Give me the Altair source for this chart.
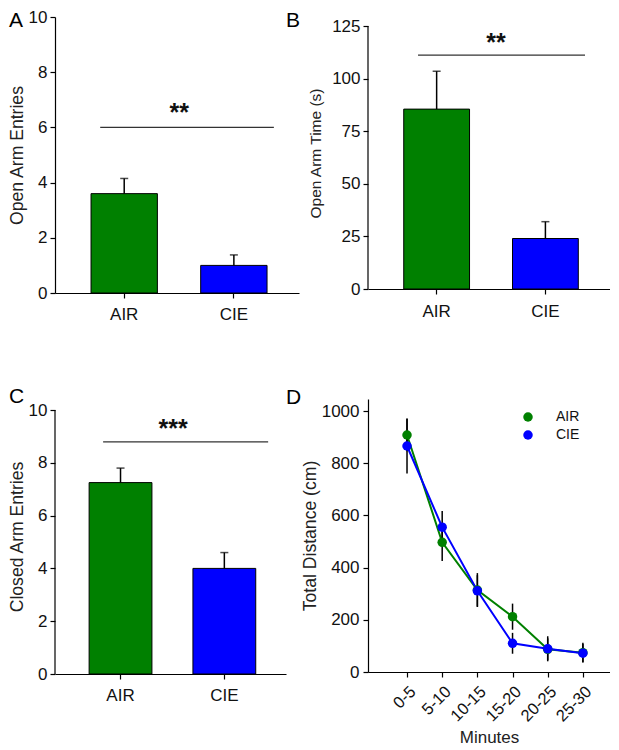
import altair as alt
import pandas as pd

# ---------------- data ----------------
groups = ["AIR", "CIE"]
group_colors = ["#008000", "#0000FF"]

panel_letters = ["A", "B", "C", "D"]

open_entries = [3.6, 1.0]
open_entries_sem = [0.55, 0.38]

open_time = [85.5, 24.0]
open_time_sem = [18.0, 8.0]

closed_entries = [7.25, 4.0]
closed_entries_sem = [0.55, 0.6]

sig_labels = ["**", "**", "***"]
sig_levels = [6.0, 111.2, 8.79]

minutes = ["0-5", "5-10", "10-15", "15-20", "20-25", "25-30"]
air_distance = [908, 497, 314, 212, 87, 74]
air_distance_sem = [62, 72, 65, 50, 42, 38]
cie_distance = [866, 555, 311, 110, 89, 72]
cie_distance_sem = [105, 62, 60, 40, 48, 35]

# ---------------- style ----------------
FONT = "Liberation Sans"
INK = "#111111"
color_scale = alt.Scale(domain=groups, range=group_colors)


def letter_layer(text, px, py):
    df = pd.DataFrame({"letter": [text]})
    return alt.Chart(df).mark_text(font=FONT, fontSize=21, color="black",
                                   align="left", baseline="alphabetic").encode(
        text="letter:N", x=alt.value(px), y=alt.value(py))


def bar_panel(values, sems, ytitle, ymax, ticks, axis_top, sig_label, sig_level,
              width, height, line_off, line_off2, star_dx, star_dy, letter,
              title_pad, label_pad_x, title_size, custom_axis):
    df = pd.DataFrame({"group": groups, "value": values, "sem": sems})
    sig_df = pd.DataFrame({"label": [sig_label], "level": [sig_level],
                           "left": ["AIR"], "right": ["CIE"]})
    xscale = alt.Scale(domain=groups, paddingInner=0.395, paddingOuter=0.31, align=0.53)
    yscale = alt.Scale(domain=[0, ymax], nice=False, zero=True)
    xaxis = alt.Axis(title=None, labelFont=FONT, labelFontSize=17, labelColor=INK,
                     labelPadding=label_pad_x, tickSize=5, tickColor="black",
                     domainColor="black", domainWidth=1.2, tickWidth=1.2,
                     labelAngle=0, grid=False)
    yaxis = alt.Axis(title=ytitle, values=ticks, labelFont=FONT, labelFontSize=17,
                     labelColor=INK, labelPadding=3, tickSize=5, tickColor="black",
                     tickWidth=1.2, domain=not custom_axis, domainColor="black",
                     domainWidth=1.2, grid=False, titleFont=FONT,
                     titleFontSize=title_size, titleFontWeight="normal",
                     titleColor="#222222", titlePadding=title_pad)
    base = alt.Chart(df)
    bars = base.mark_bar(stroke="black", strokeWidth=1).encode(
        x=alt.X("group:N", scale=xscale, axis=xaxis),
        y=alt.Y("value:Q", scale=yscale, axis=yaxis, title=ytitle),
        color=alt.Color("group:N", scale=color_scale, legend=None),
    )
    errs = base.transform_calculate(upper="datum.value + datum.sem").mark_rule(
        color="black", strokeWidth=1.5).encode(
        x=alt.X("group:N", title=None), y=alt.Y("value:Q", title=ytitle), y2="upper:Q")
    caps = base.transform_calculate(upper="datum.value + datum.sem").mark_tick(
        color="black", size=8, thickness=1.5).encode(
        x=alt.X("group:N", title=None), y=alt.Y("upper:Q", title=ytitle))
    sig = alt.Chart(sig_df)
    line = sig.mark_rule(color="#333333", strokeWidth=1.3, xOffset=line_off,
                         x2Offset=line_off2).encode(
        x=alt.X("left:N", title=None), x2="right:N", y=alt.Y("level:Q", title=ytitle))
    stars = sig.mark_text(font=FONT, fontSize=25, fontWeight="bold", color="#111111",
                          baseline="alphabetic", align="center", dx=star_dx,
                          dy=star_dy).encode(
        x=alt.X("left:N", title=None), y=alt.Y("level:Q", title=ytitle), text="label:N")
    layers = [bars, errs, caps, line, stars]
    if custom_axis:
        ax_df = pd.DataFrame({"lo": [0], "hi": [axis_top]})
        axis_line = alt.Chart(ax_df).mark_rule(color="black", strokeWidth=1.2).encode(
            x=alt.value(0), y=alt.Y("lo:Q", title=ytitle), y2="hi:Q")
        layers.append(axis_line)
    layers.append(letter)
    return alt.layer(*layers).properties(width=width, height=height)


panel_a = bar_panel(open_entries, open_entries_sem, "Open Arm Entries", 10,
                    [0, 2, 4, 6, 8, 10], 10, sig_labels[0], sig_levels[0],
                    244, 276, -24, 40, 55, -6,
                    letter_layer(panel_letters[0], -46, 10),
                    2, 8, 17.6, False)
panel_b = bar_panel(open_time, open_time_sem, "Open Arm Time (s)", 129.28,
                    [0, 25, 50, 75, 100, 125], 125, sig_labels[1], sig_levels[1],
                    242, 272, -18.6, 39.6, 59.4, -4,
                    letter_layer(panel_letters[1], -82, 10),
                    8, 9, 15.5, True)
panel_c = bar_panel(closed_entries, closed_entries_sem, "Closed Arm Entries", 10.417,
                    [0, 2, 4, 6, 8, 10], 10, sig_labels[2], sig_levels[2],
                    231, 275, -17.4, 43.8, 52.6, -4.5,
                    letter_layer(panel_letters[2], -46, 4),
                    2, 8, 17.6, True)

# ---------------- panel D ----------------
dist_df = pd.DataFrame({
    "minutes": minutes + minutes,
    "group": ["AIR"] * len(minutes) + ["CIE"] * len(minutes),
    "distance": air_distance + cie_distance,
    "sem": air_distance_sem + cie_distance_sem,
})
D_YTITLE = "Total Distance (cm)"
d_base = alt.Chart(dist_df).transform_calculate(
    lo="datum.distance - datum.sem", hi="datum.distance + datum.sem")
xD = alt.X("minutes:N", sort=minutes,
           scale=alt.Scale(type="point", domain=minutes, padding=0.94, align=0.59),
           axis=alt.Axis(title="Minutes", labelAngle=-45, labelFont=FONT,
                         labelFontSize=16.5, labelColor=INK, labelPadding=6,
                         tickSize=5, tickColor="black", tickWidth=1.2,
                         domainColor="black", domainWidth=1.2, grid=False,
                         titleFont=FONT, titleFontSize=17, titleFontWeight="normal",
                         titleColor="#222222", titlePadding=5))
yD = alt.Y("distance:Q", scale=alt.Scale(domain=[0, 1046], nice=False),
           title=D_YTITLE,
           axis=alt.Axis(title=D_YTITLE, values=[0, 200, 400, 600, 800, 1000],
                         format="d",
                         labelFont=FONT, labelFontSize=17, labelColor=INK,
                         labelPadding=4, tickSize=5, tickColor="black", tickWidth=1.2,
                         domainColor="black", domainWidth=1.2, grid=False,
                         titleFont=FONT, titleFontSize=17.6, titleFontWeight="normal",
                         titleColor="#222222", titlePadding=2))
d_lines = d_base.mark_line(strokeWidth=2).encode(
    x=xD, y=yD, color=alt.Color("group:N", scale=color_scale, legend=None))
d_errs = d_base.mark_rule(color="black", strokeWidth=1.5).encode(
    x=alt.X("minutes:N", title="Minutes"), y=alt.Y("lo:Q", title=D_YTITLE), y2="hi:Q")
d_points = d_base.mark_circle(size=90, opacity=1).encode(
    x=alt.X("minutes:N", title="Minutes"), y=alt.Y("distance:Q", title=D_YTITLE),
    color=alt.Color("group:N", scale=color_scale,
                    legend=alt.Legend(title=None, orient="none", legendX=153, legendY=11,
                                      labelFont=FONT, labelFontSize=14, labelColor=INK,
                                      symbolType="circle", symbolSize=90,
                                      symbolStrokeWidth=0, labelOffset=21,
                                      rowPadding=4, padding=0)))
d_letter = letter_layer(panel_letters[3], -82, 5)
panel_d = alt.layer(d_lines, d_errs, d_points, d_letter).resolve_legend(
    color="independent").properties(width=242, height=273)

chart = alt.concat(panel_a, panel_b, panel_c, panel_d, columns=2,
                   spacing={"row": 106, "column": 69}, bounds="flush",
                   align="each").resolve_scale(color="independent").properties(
    padding=0).configure_view(strokeWidth=0)

chart.save("out.html", embed_options={"renderer": "svg", "actions": False})
